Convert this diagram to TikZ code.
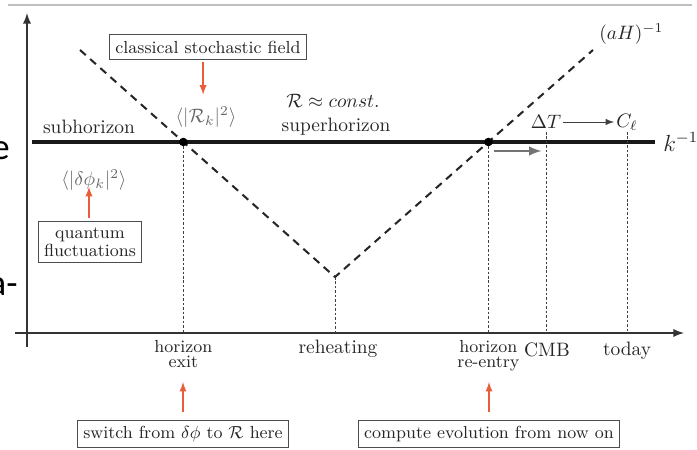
\documentclass[tikz,border=0pt]{standalone}
\usepackage{amssymb}
\usepackage{amsmath}
\usepackage{fontspec}
\newfontfamily\slidefont{Carlito}
\usepackage{tikz}
\usetikzlibrary{calc,intersections}
\definecolor{arrowred}{RGB}{232,93,58}

\begin{document}
\begin{tikzpicture}[x=0.515pt, y=-0.515pt, >=latex,
    axis/.style={draw=black!80, line width=0.9pt},
    vdash/.style={draw=black!85, line width=1.05pt, dash pattern=on 4pt off 3pt},
    guide/.style={draw=black!75, line width=0.45pt, dash pattern=on 1.3pt off 1pt},
    redarr/.style={draw=arrowred, line width=0.7pt, ->},
    textbox/.style={draw=black!70, line width=0.5pt, font=\small, text=black!85, inner sep=3pt, align=center},
    lab/.style={text=black!85, inner sep=1pt},
    soft/.style={text=black!60, inner sep=1pt}]
    \useasboundingbox (0,0) rectangle (697,450);
    \draw[black!25, line width=0.6pt] (8,5) -- (692,5);
    % slide fragments at the left edge
    \node[font=\slidefont\fontsize{19}{20}\selectfont, anchor=base east, inner sep=0] (frage) at (10,160) {e};
    \node[font=\slidefont\fontsize{19}{20}\selectfont, anchor=base east, inner sep=0] (fraga) at (18,296) {a-};

    % axes
    \coordinate (Yb) at (27,347); \coordinate (Yt) at (27,13);
    \coordinate (Xl) at (15,333); \coordinate (Xr) at (684,333);
    \draw[axis, ->] (Yb) -- (Yt); \draw[axis, ->] (Xl) -- (Xr);

    % k^{-1} and (aH)^{-1}
    \coordinate (K1) at (32,142); \coordinate (K2) at (655,142);
    \coordinate (A) at (80,50); \coordinate (R) at (335,277); \coordinate (B) at (593,50);
    \draw[name path=kline, black!90, line width=1.9pt] (K1) -- (K2);
    \draw[name path=vline, vdash] (A) -- (R) -- (B);
    \path [name intersections={of=kline and vline, sort by=x, by={P,Q}}];
    \node[lab, anchor=west, font=\large] (kinv) at ($(K2)+(6,0)$) {\(k^{-1}\)};
    \node[lab, anchor=west] (aHinv) at ($(B)+(4,-16)$) {\((aH)^{-1}\)};

    % times on the axis
    \coordinate (CMB) at (546,132); \coordinate (now) at (627,132);
    \foreach \p in {P,Q,R,CMB,now} \draw[guide] (\p) -- (\p |- Xl);
    \foreach \p in {P,Q} \fill[black] (\p) circle (2.2pt);

    \node[lab, below, font=\small, align=center] (exit) at ($(P |- Xl)+(0,5)$) {horizon\\[-3pt]exit};
    \node[lab, below] (reheat) at ($(R |- Xl)+(3,5)$) {reheating};
    \node[lab, below, font=\small, align=center] (reentry) at ($(Q |- Xl)+(0,5)$) {horizon\\[-3pt]re-entry};
    \node[lab, below] (cmbl) at ($(CMB |- Xl)+(1,7)$) {CMB};
    \node[lab, below] (todayl) at ($(now |- Xl)+(0,7)$) {today};

    % regions
    \node[lab] (sub) at (89,127) {subhorizon};
    \node[lab] (super) at (336,127) {superhorizon};
    \node[lab] (const) at (333,101) {\(\mathcal{R}\approx const.\)};
    \node[soft] (Rk) at (206,117) {\(\langle|\mathcal{R}_k|^2\rangle\)};
    \node[soft] (dphi) at (94,180) {\(\langle|\delta\phi_k|^2\rangle\)};
    \node[lab] (dT) at (546,122) {\(\Delta T\)};
    \node[lab] (Cl) at (627,122) {\(C_\ell\)};
    \draw[black!75, line width=0.5pt, ->] (dT) -- (Cl);
    \draw[black!55, line width=1.2pt, ->] ($(Q)+(6,9)$) -- ($(Q)+(53,9)$);

    % boxes
    \node[textbox] (cls) at (208,47) {classical stochastic field};
    \node[textbox] (qf) at (90,242) {quantum\\[-2pt]fluctuations};
    \node[textbox] (swi) at (183,434) {switch from \(\delta\phi\) to \(\mathcal{R}\) here};
    \node[textbox] (comp) at (489,434) {compute evolution from now on};

    \draw[redarr] ([xshift=-1.5pt, yshift=-1.5pt]cls.south -| Rk.north) -- ([xshift=-1.5pt, yshift=5pt]Rk.north);
    \draw[redarr] ([yshift=2pt]qf.north -| 89,0) -- ([yshift=3pt]dphi.south -| 89,0);
    \draw[redarr] ([yshift=4pt]swi.north) -- ([yshift=19.5pt]swi.north);
    \draw[redarr] ([yshift=4pt]comp.north) -- ([yshift=19.5pt]comp.north);
\end{tikzpicture}
\end{document}
